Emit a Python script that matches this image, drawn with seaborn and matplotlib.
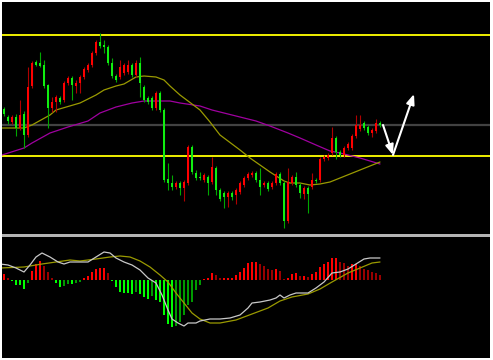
import matplotlib
matplotlib.use("Agg")
import matplotlib.pyplot as plt
import matplotlib.patches as mpatches
import seaborn as sns
import pandas as pd
import numpy as np

# ---------------- data (price units) ----------------
opens = [131, 123, 118, 123, 112, 126, 105, 154, 178, 177, 175, 155, 132, 138, 142, 140, 157, 162, 154, 157,
         163, 170, 175, 187, 198, 195, 193, 177, 164, 163, 167, 168, 175, 165, 177, 153, 142, 142, 132, 147,
         130, 61, 57, 53, 57, 52, 57, 93, 67, 63, 60, 63, 58, 72, 50, 47, 43, 47, 45, 48,
         55, 62, 65, 67, 60, 55, 57, 53, 57, 66, 57, 19, 57, 63, 55, 46, 52, 53, 60, 60,
         81, 82, 87, 102, 88, 85, 92, 92, 104, 111, 117, 113, 107, 109, 117]
highs = [133, 125, 125, 126, 140, 129, 173, 179, 180, 188, 180, 156, 143, 145, 144, 159, 164, 164, 160, 165,
         173, 177, 189, 200, 207, 200, 195, 182, 166, 180, 177, 180, 177, 180, 183, 155, 144, 144, 149, 149,
         132, 77, 65, 59, 59, 60, 95, 95, 70, 68, 67, 65, 83, 74, 52, 49, 49, 49, 52, 59,
         64, 68, 69, 69, 72, 59, 59, 59, 68, 68, 59, 72, 65, 68, 57, 54, 54, 67, 62, 83,
         85, 87, 113, 104, 90, 94, 98, 106, 125, 125, 119, 115, 112, 121, 119]
lows = [124, 116, 116, 104, 110, 92, 103, 152, 174, 173, 152, 112, 128, 128, 136, 138, 155, 140, 147, 147,
        161, 168, 173, 185, 192, 187, 175, 162, 158, 161, 165, 166, 163, 163, 143, 138, 136, 130, 130, 128,
        58, 50, 50, 51, 45, 39, 55, 66, 60, 60, 58, 45, 56, 45, 39, 32, 33, 40, 36, 46,
        53, 60, 63, 58, 45, 53, 49, 51, 55, 55, 12, 17, 55, 53, 42, 41, 27, 51, 57, 58,
        79, 80, 85, 81, 83, 83, 90, 90, 102, 109, 110, 105, 103, 107, 113]
closes = [126, 119, 123, 112, 125, 105, 153, 177, 175, 174, 154, 132, 138, 143, 138, 157, 162, 155, 157, 163,
          171, 175, 187, 198, 194, 193, 177, 164, 160, 173, 175, 175, 165, 177, 157, 140, 138, 132, 147, 130,
          60, 57, 53, 57, 52, 58, 93, 68, 62, 62, 65, 57, 73, 50, 41, 43, 47, 43, 50, 57,
          62, 66, 67, 60, 53, 57, 51, 57, 66, 57, 19, 58, 63, 55, 47, 52, 46, 60, 59, 81,
          83, 85, 102, 88, 85, 92, 96, 104, 115, 115, 112, 107, 110, 117, 115]

# moving averages: (bar index, value)
ma_fast_idx = [-1, 5, 7, 11.5, 13, 19, 23, 25, 28, 30, 33, 35, 38, 40, 41.5, 44, 49, 51.5, 54, 59,
               61.5, 64, 66.5, 70, 71.5, 74, 76.5, 79, 81.5, 84, 89, 94]
ma_fast_val = [112, 112, 115, 125, 130, 137, 145, 150, 154, 156, 163, 164, 163, 160, 154, 145, 130, 118, 105, 90,
               82, 75, 68, 59, 57, 57, 55, 56, 58, 62, 70, 78]
ma_slow_idx = [-0.5, 5, 7, 11.5, 16, 21, 24, 28, 32, 35, 41.5, 44, 49, 52, 59, 63, 66.5, 71, 74, 78,
               81.5, 84, 89, 94]
ma_slow_val = [85, 92, 97, 107, 113, 119, 127, 133, 137, 139, 139, 137, 134, 130, 123, 119, 114, 107, 102, 95,
               89, 87, 82, 76]

# horizontal levels
level_upper = 205
level_lower = 84
level_mid = 115

# MACD
macd_hist = [6, 2, -1, -5, -5, -9, -3, 9, 16, 19, 14, 8, 2, -3, -7, -6, -4, -4, -3, -2,
             2, 4, 8, 11, 12, 12, 7, -1, -7, -12, -13, -13, -14, -12, -14, -17, -19, -16, -20, -22,
             -35, -44, -47, -46, -42, -35, -25, -22, -10, -5, 1, 2, 7, 5, 2, 2, 2, 2, 5, 8,
             12, 17, 18, 18, 16, 14, 11, 10, 11, 9, 1, 2, 6, 7, 4, 4, 3, 6, 8, 13,
             16, 18, 22, 22, 18, 17, 14, 16, 16, 14, 11, 10, 8, 7, 5]
macd_idx = [-1, 1, 3, 5, 6.5, 8, 9.5, 11.5, 13.5, 15, 16.5, 19, 21, 23, 25, 26.5, 28, 30, 32, 34,
            36, 38, 39.5, 41, 42, 43.5, 45, 46, 48, 49, 51.5, 54, 56.5, 59, 61, 62, 64, 66.5, 68, 69,
            70, 71.5, 73, 76, 78, 80, 82, 84, 86, 88, 90, 91.5, 94]
macd_val = [16, 15, 12, 8, 15, 23, 27, 23, 18, 16, 18, 18, 18, 23, 28, 27, 22, 18, 15, 10,
            2, -3, -15, -30, -39, -43, -46, -43, -43, -41, -39, -39, -38, -35, -28, -23, -22, -20, -18, -15,
            -18, -15, -13, -13, -8, -2, 7, 8, 11, 16, 21, 22, 22]
signal_idx = [-1, 5, 9.5, 13, 16.5, 19, 23, 26.5, 29, 31.5, 34, 36.5, 39, 41, 43, 45, 47, 49, 51.5, 54,
              58, 62, 66, 69, 72, 76, 79, 82, 86, 89, 92, 94]
signal_val = [12, 13, 16, 18, 20, 19, 21, 23, 24, 23, 19, 13, 5, -2, -13, -23, -33, -39, -43, -43,
              -40, -34, -28, -21, -17, -14, -9, -2, 7, 12, 17, 18]

# arrows (projection drawn on the chart)
arrow_pts_idx = [94.75, 97.25, 102.5]
arrow_pts_val = [115, 85, 146]

# ---------------- drawing ----------------
sns.set_theme(style="dark", rc={"axes.facecolor": "black"})
fig = plt.figure(figsize=(4.93, 3.60), dpi=100, facecolor="white")
W, H = 493.0, 360.0
ax = fig.add_axes([2 / W, (H - 234) / H, 488 / W, 232 / H])
axm = fig.add_axes([2 / W, 2 / H, 488 / W, 121 / H])
fig.add_artist(mpatches.Rectangle((2 / W, (H - 237) / H), 488 / W, 3 / H,
                                  transform=fig.transFigure, color="#b4b4b4", lw=0))

for a in (ax, axm):
    a.set_facecolor("black")
    a.set_xticks([])
    a.set_yticks([])
    a.grid(False)
    for s in a.spines.values():
        s.set_visible(False)
    a.set_xlim(-0.5, 121.5)

ax.set_ylim(6, 238)
axm.set_ylim(-78, 43)

df = pd.DataFrame({"o": opens, "h": highs, "l": lows, "c": closes})
df["i"] = np.arange(len(df))
up = df["c"] >= df["o"]

# levels
ax.axhline(level_upper, color="#f0f000", lw=1.4, zorder=1)
ax.axhline(level_lower, color="#f0f000", lw=1.4, zorder=1)
ax.axhline(level_mid, color="#424242", lw=1.6, zorder=1)

# moving averages
sns.lineplot(x=ma_slow_idx, y=ma_slow_val, ax=ax, color="#a000a0", lw=0.9, zorder=2)
sns.lineplot(x=ma_fast_idx, y=ma_fast_val, ax=ax, color="#9a9a00", lw=0.9, zorder=2)

# candles
ax.vlines(df["i"][up], df["l"][up], df["h"][up], color="#b00000", lw=0.8, zorder=3)
ax.vlines(df["i"][~up], df["l"][~up], df["h"][~up], color="#00a800", lw=0.8, zorder=3)
body = (df["c"] - df["o"]).abs().clip(lower=1.2)
bottom = df[["o", "c"]].min(axis=1)
ax.bar(df["i"][up], body[up], bottom=bottom[up], width=0.72, color="#ff0000", lw=0, zorder=4)
ax.bar(df["i"][~up], body[~up], bottom=bottom[~up], width=0.72, color="#10ee10", lw=0, zorder=4)

# arrows
for k in range(2):
    ax.annotate("", xy=(arrow_pts_idx[k + 1], arrow_pts_val[k + 1]),
                xytext=(arrow_pts_idx[k], arrow_pts_val[k]),
                arrowprops=dict(arrowstyle="-|>,head_length=0.5,head_width=0.2",
                                color="white", lw=1.5, shrinkA=0, shrinkB=0),
                zorder=6)

# MACD histogram
cols = []
prev = macd_hist[0]
for k, v in enumerate(macd_hist):
    p = macd_hist[k - 1] if k > 0 else v
    if v >= 0:
        cols.append("#ff0000" if v >= p else "#9a0000")
    else:
        cols.append("#00ff00" if v <= p else "#009a00")
axm.bar(np.arange(len(macd_hist)), macd_hist, width=0.5, color=cols, lw=0, zorder=2)
sns.lineplot(x=signal_idx, y=signal_val, ax=axm, color="#9a9a00", lw=0.9, zorder=3)
sns.lineplot(x=macd_idx, y=macd_val, ax=axm, color="#c8c8c8", lw=0.9, zorder=3)

for a in (ax, axm):
    leg = a.get_legend()
    if leg:
        leg.remove()
    a.set_xlabel("")
    a.set_ylabel("")

fig.savefig("out.png", dpi=100, facecolor="white")
